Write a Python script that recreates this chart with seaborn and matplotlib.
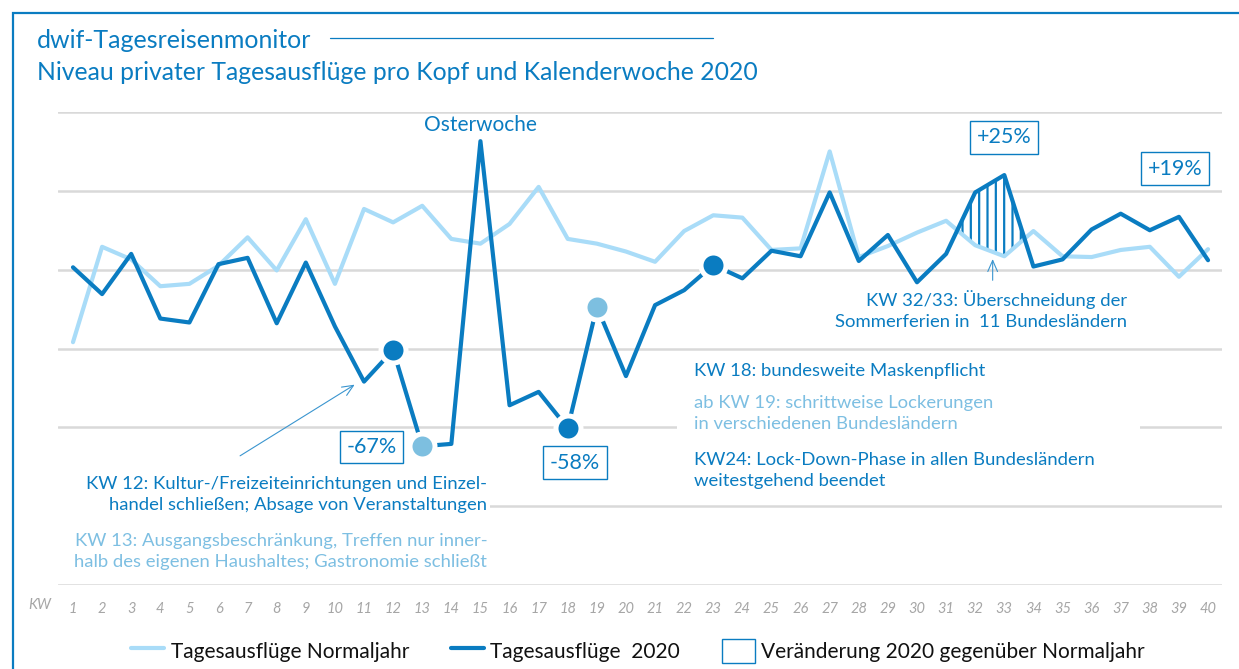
import pandas as pd
import seaborn as sns
import matplotlib.pyplot as plt
from matplotlib.lines import Line2D
from matplotlib.patches import Patch, Rectangle

# Kalenderwochen und Niveau (Index)
weeks = list(range(1, 41))
normaljahr = [2.08, 3.29, 3.13, 2.79, 2.82, 3.05, 3.41, 2.99, 3.64, 2.82,
              3.77, 3.60, 3.81, 3.39, 3.33, 3.58, 4.05, 3.39, 3.33, 3.23,
              3.10, 3.49, 3.69, 3.66, 3.25, 3.27, 4.50, 3.16, 3.30, 3.47,
              3.62, 3.31, 3.17, 3.49, 3.17, 3.16, 3.25, 3.29, 2.91, 3.26]
jahr2020 = [3.03, 2.69, 3.20, 2.38, 2.33, 3.07, 3.15, 2.32, 3.09, 2.28,
            1.58, 1.98, 0.76, 0.79, 4.63, 1.28, 1.45, 0.99, 2.53, 1.65,
            2.55, 2.74, 3.06, 2.89, 3.24, 3.17, 3.98, 3.11, 3.44, 2.84,
            3.20, 3.98, 4.20, 3.04, 3.13, 3.51, 3.71, 3.50, 3.67, 3.12]
dots_dark = [12, 18, 23]
dots_light = [13, 19]
hatch_weeks = [31, 32, 33, 34]

DARK = "#0A7CC1"
LIGHT = "#A9DCF8"
LIGHT_DOT = "#7DBFE0"
LIGHT_TXT = "#7DBFE2"
GRID = "#D9D9D9"
FS = 13.3

sns.set_style("white")
plt.rcParams["font.family"] = ["Lato", "DejaVu Sans"]
plt.rcParams["hatch.linewidth"] = 1.6

df = pd.DataFrame({
    "KW": weeks * 2,
    "wert": normaljahr + jahr2020,
    "serie": ["Normaljahr"] * 40 + ["2020"] * 40,
})

fig = plt.figure(figsize=(12.39, 6.69), dpi=100)
W, H = 1239, 669
ax = fig.add_axes([58 / W, 1 - 585 / H, (1222 - 58) / W, (585 - 112) / H])

# frame around the chart
fig.patches.append(Rectangle((13 / W, -0.1), 1.2, 1 - 13 / H + 0.1,
                             transform=fig.transFigure, fill=False,
                             edgecolor=DARK, linewidth=1.6))

# titles
fig.text(37 / W, 1 - 40 / H, "dwif-Tagesreisenmonitor", color=DARK,
         fontsize=18, va="center")
fig.add_artist(Line2D([330 / W, 713 / W], [1 - 38 / H, 1 - 38 / H],
                      transform=fig.transFigure, color=DARK, lw=0.9))
fig.text(37 / W, 1 - 73 / H,
         "Niveau privater Tagesausflüge pro Kopf und Kalenderwoche 2020",
         color=DARK, fontsize=17.8, va="center")

# hatched area KW 32/33
sub = [w - 1 for w in hatch_weeks]
xs = [weeks[i] for i in sub]
ln = [normaljahr[i] for i in sub]
dk = [jahr2020[i] for i in sub]
ax.fill_between(xs, ln, dk, where=[d > n for d, n in zip(dk, ln)],
                interpolate=True, facecolor="white", edgecolor=DARK,
                hatch="||", linewidth=0, zorder=2)

sns.lineplot(data=df, x="KW", y="wert", hue="serie",
             palette={"Normaljahr": LIGHT, "2020": DARK},
             hue_order=["Normaljahr", "2020"], linewidth=3.0,
             legend=False, ax=ax, zorder=3)

for w in dots_dark:
    ax.plot(w, jahr2020[w - 1], "o", ms=18, color=DARK, mec="white",
            mew=3.6, zorder=5)
for w in dots_light:
    ax.plot(w, jahr2020[w - 1], "o", ms=18, color=LIGHT_DOT, mec="white",
            mew=3.6, zorder=5)

ax.set_xlim(0.485, 40.48)
ax.set_ylim(-1, 5)
ax.set_yticks(range(-1, 6))
ax.yaxis.grid(True, color=GRID, linewidth=1.8)
ax.set_yticklabels([])
ax.set_xticks(weeks)
ax.set_xticklabels([str(w) for w in weeks], fontstyle="italic",
                   color="#A6A6A6", fontsize=10.5)
ax.tick_params(axis="both", length=0)
ax.tick_params(axis="x", pad=12)
ax.set_xlabel("")
ax.set_ylabel("")
for s in ax.spines.values():
    s.set_visible(False)
ax.text(-0.13, -1.17, "KW", fontstyle="italic", color="#A6A6A6",
        fontsize=10.5, ha="center", va="top")

# white masks behind text blocks
ax.add_patch(Rectangle((21.76, 0.2), 15.9, 1.65, facecolor="white",
                       edgecolor="none", zorder=1.5))
ax.add_patch(Rectangle((0.485, -0.88), 14.85, 1.34, facecolor="white",
                       edgecolor="none", zorder=1.5))

box = dict(boxstyle="square,pad=0.3", facecolor="white", edgecolor=DARK,
           linewidth=1.0)
ax.text(15, 4.83, "Osterwoche", color=DARK, fontsize=15, ha="center",
        va="center", zorder=6)
for xp, yp, lab in [(11.27, 0.75, "-67%"), (18.25, 0.55, "-58%"),
                    (33.0, 4.68, "+25%"), (38.87, 4.28, "+19%")]:
    ax.text(xp, yp, lab, color=DARK, fontsize=15.5, ha="center",
            va="center", bbox=box, zorder=6)

ax.text(15.23, 0.15, "KW 12: Kultur-/Freizeiteinrichtungen und Einzel-\n"
        "handel schließen; Absage von Veranstaltungen", color=DARK,
        fontsize=FS, ha="right", va="center", multialignment="right",
        linespacing=1.38, zorder=6)
ax.text(15.23, -0.57, "KW 13: Ausgangsbeschränkung, Treffen nur inner-\n"
        "halb des eigenen Haushaltes; Gastronomie schließt", color=LIGHT_TXT,
        fontsize=FS, ha="right", va="center", multialignment="right",
        linespacing=1.38, zorder=6)
ax.text(37.22, 2.485, "KW 32/33: Überschneidung der\n"
        "Sommerferien in  11 Bundesländern", color=DARK, fontsize=FS,
        ha="right", va="center", multialignment="right", linespacing=1.38,
        zorder=6)
ax.text(22.34, 1.71, "KW 18: bundesweite Maskenpflicht", color=DARK,
        fontsize=FS, ha="left", va="center", zorder=6)
ax.text(22.34, 1.17, "ab KW 19: schrittweise Lockerungen\n"
        "in verschiedenen Bundesländern", color=LIGHT_TXT, fontsize=FS,
        ha="left", va="center", linespacing=1.38, zorder=6)
ax.text(22.34, 0.455, "KW24: Lock-Down-Phase in allen Bundesländern\n"
        "weitestgehend beendet", color=DARK, fontsize=FS, ha="left",
        va="center", linespacing=1.38, zorder=6)

ax.annotate("", xy=(10.76, 1.56), xytext=(6.66, 0.62),
            arrowprops=dict(arrowstyle="->,head_length=0.8,head_width=0.35",
                            color="#3A95CF", lw=0.8), zorder=6)
ax.annotate("", xy=(32.6, 3.17), xytext=(32.6, 2.83),
            arrowprops=dict(arrowstyle="->,head_length=0.8,head_width=0.35",
                            color="#3A95CF", lw=0.8), zorder=6)

handles = [Line2D([], [], color=LIGHT, lw=3),
           Line2D([], [], color=DARK, lw=3),
           Patch(facecolor="white", edgecolor=DARK, linewidth=1.0)]
labels = ["Tagesausflüge Normaljahr", "Tagesausflüge  2020",
          "Veränderung 2020 gegenüber Normaljahr"]
fig.legend(handles, labels, loc="center", bbox_to_anchor=(638 / W, 1 - 651 / H),
           ncol=3, frameon=False, fontsize=15, handlelength=1.6,
           handleheight=1.4, handletextpad=0.3, columnspacing=2.0,
           labelcolor="#111111")

plt.savefig("out.png", dpi=100)
